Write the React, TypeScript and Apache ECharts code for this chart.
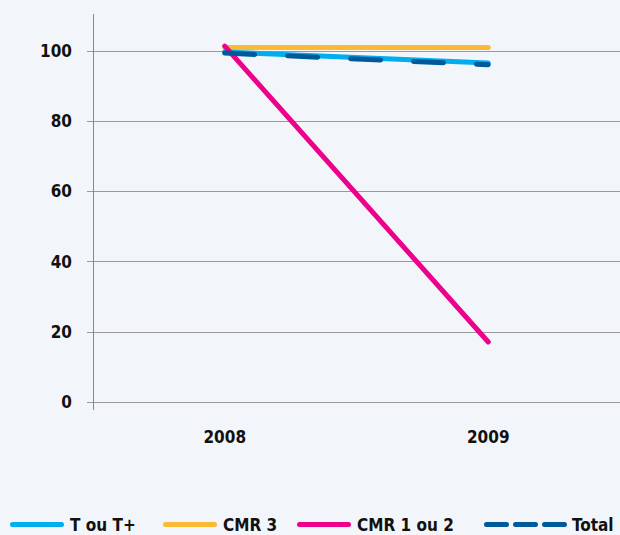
import React, { useEffect, useRef } from "react";
import * as echarts from "echarts";

const categories = ["2008", "2009"];
const tOuTPlus = [99.7, 96.6];
const cmr3 = [101, 101];
const cmr1ou2 = [101.4, 17.1];
const total = [99.4, 96.1];
const yTicks = [0, 20, 40, 60, 80, 100];

const FONT = "'DejaVu Sans Condensed', 'Liberation Sans Narrow', sans-serif";
const C_LBLUE = "#00adef";
const C_ORANGE = "#fbb934";
const C_PINK = "#ec008c";
const C_DBLUE = "#005a9a";

const DASH_ICON = "path://M2.5,0h20a2.5,2.5 0 0 1 0,5h-20a2.5,2.5 0 0 1 0,-5z M31.5,0h20a2.5,2.5 0 0 1 0,5h-20a2.5,2.5 0 0 1 0,-5z M60.5,0h20a2.5,2.5 0 0 1 0,5h-20a2.5,2.5 0 0 1 0,-5z";
const LINE_ICON = "path://M2.5,0h49a2.5,2.5 0 0 1 0,5h-49a2.5,2.5 0 0 1 0,-5z";

export default function App() {
  const ref = useRef<HTMLDivElement>(null);
  useEffect(() => {
    const chart = echarts.init(ref.current!, undefined, { renderer: "svg" });
    const line = (name: string, data: number[], color: string, dashed = false) => ({
      name,
      type: "line",
      data,
      symbol: "none",
      clip: false,
      lineStyle: {
        color,
        width: 5,
        cap: "round",
        type: dashed ? [30, 33] : "solid",
      },
      itemStyle: { color },
    });
    const legendText = { fontFamily: FONT, fontWeight: "bold", fontSize: 17, color: "#111" };
    const mkLegend = (name: string, left: number, w: number, icon: string) => ({
      left,
      top: 516,
      padding: 0,
      itemWidth: w,
      itemHeight: 5,
      icon,
      textStyle: legendText,
      data: [name],
    });
    chart.setOption({
      animation: false,
      backgroundColor: "#f2f6fa",
      textStyle: { fontFamily: FONT },
      grid: { left: 93, right: 0, top: 51, bottom: 133 },
      xAxis: {
        type: "category",
        data: categories,
        boundaryGap: true,
        axisLine: { show: false },
        axisTick: { show: false },
        axisLabel: {
          margin: 26,
          fontFamily: FONT,
          fontWeight: "bold",
          fontSize: 17,
          color: "#111",
        },
      },
      yAxis: {
        type: "value",
        min: yTicks[0],
        max: yTicks[yTicks.length - 1],
        interval: 20,
        axisLine: { show: false },
        axisTick: { show: true, length: 6, lineStyle: { color: "#999" } },
        splitLine: { lineStyle: { color: "#999", width: 1 } },
        axisLabel: {
          margin: 21,
          fontFamily: FONT,
          fontWeight: "bold",
          fontSize: 17,
          color: "#111",
        },
      },
      legend: [
        mkLegend("T ou T+", 10, 56, LINE_ICON),
        mkLegend("CMR 3", 163, 56, LINE_ICON),
        mkLegend("CMR 1 ou 2", 297, 56, LINE_ICON),
        mkLegend("Total", 484, 83, DASH_ICON),
      ],
      graphic: [
        {
          type: "line",
          shape: { x1: 93.5, y1: 14, x2: 93.5, y2: 410 },
          style: { stroke: "#888", lineWidth: 1 },
          z: 1,
        },
      ],
      series: [
        line("CMR 3", cmr3, C_ORANGE),
        line("T ou T+", tOuTPlus, C_LBLUE),
        line("CMR 1 ou 2", cmr1ou2, C_PINK),
        line("Total", total, C_DBLUE, true),
      ],
    });
    return () => chart.dispose();
  }, []);
  return (
    <div
      ref={ref}
      style={{ position: "fixed", left: 0, top: 0, width: 620, height: 535 }}
    />
  );
}
